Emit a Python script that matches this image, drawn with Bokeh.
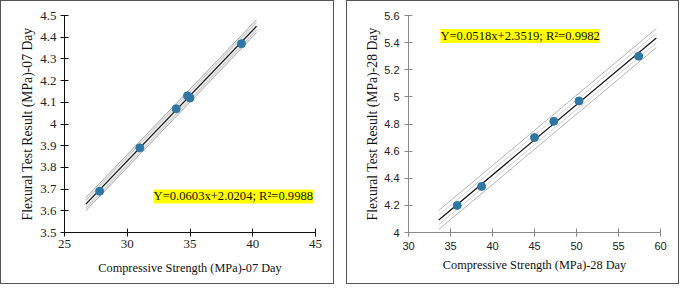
from bokeh.plotting import figure
from bokeh.layouts import row
from bokeh.models import Label, FixedTicker, Range1d
from bokeh.embed import file_html
from bokeh.resources import INLINE

# ---- 7-day data ----
x07 = [27.8, 31.0, 33.9, 34.8, 35.0, 39.1]
y07 = [3.69, 3.89, 4.07, 4.13, 4.12, 4.37]
slope07, icpt07 = 0.0603, 2.0204
fit07_x = [26.7, 40.3]
band07 = [0.018, 0.03]
xticks07 = [25, 30, 35, 40, 45]
yticks07 = [3.5, 3.6, 3.7, 3.8, 3.9, 4.0, 4.1, 4.2, 4.3, 4.4, 4.5]
ylabels07 = ["3.5", "3.6", "3.7", "3.8", "3.9", "4", "4.1", "4.2", "4.3", "4.4", "4.5"]
eq07 = "Y=0.0603x+2.0204; R\u00b2=0.9988"

# ---- 28-day data ----
x28 = [35.8, 38.7, 45.0, 47.3, 50.3, 57.4]
y28 = [4.20, 4.34, 4.70, 4.82, 4.97, 5.30]
slope28, icpt28 = 0.0518, 2.3519
fit28_x = [33.6, 59.5]
band28 = [0.035, 0.07]
xticks28 = [30, 35, 40, 45, 50, 55, 60]
yticks28 = [4.0, 4.2, 4.4, 4.6, 4.8, 5.0, 5.2, 5.4, 5.6]
ylabels28 = ["4", "4.2", "4.4", "4.6", "4.8", "5", "5.2", "5.4", "5.6"]
eq28 = "Y=0.0518x+2.3519; R\u00b2=0.9982"

SERIF = "Liberation Serif"
SANS = "Liberation Sans"
DOT = "#2f77a3"


def make_panel(xs, ys, slope, icpt, fx, band, xt, yt, ylab, xr, yr,
               xtitle, ytitle, eq, eqx, eqy, tick_font, tick_size, axis_color,
               width, mb_left, mb_right, band_fill, band_colors, stand):
    p = figure(width=width, height=284, output_backend="svg", toolbar_location=None,
               x_range=Range1d(*xr), y_range=Range1d(*yr),
               min_border_left=mb_left, min_border_right=mb_right,
               min_border_top=14, min_border_bottom=53)
    p.styles = {"border": "1px solid #555555"}
    p.outline_line_color = None
    p.grid.visible = False
    p.background_fill_color = "white"
    p.border_fill_color = "white"

    fy = [slope * v + icpt for v in fx]
    if band_fill:
        p.varea(x=fx, y1=[v - band[1] for v in fy], y2=[v + band[1] for v in fy],
                fill_color=band_fill, fill_alpha=1.0)
    for b, c in zip(band, band_colors):
        p.line(fx, [v + b for v in fy], line_color=c, line_width=1)
        p.line(fx, [v - b for v in fy], line_color=c, line_width=1)
    p.line(fx, fy, line_color="#111111", line_width=1.2)
    p.scatter(xs, ys, size=8, fill_color=DOT, line_color=DOT)

    p.xaxis.ticker = FixedTicker(ticks=xt)
    p.yaxis.ticker = FixedTicker(ticks=yt)
    p.yaxis.major_label_overrides = {v: s for v, s in zip(yt, ylab)}
    for ax in (p.xaxis, p.yaxis):
        ax.axis_line_color = axis_color
        ax.major_tick_line_color = axis_color
        ax.minor_tick_line_color = None
        ax.major_tick_in = 4
        ax.major_tick_out = 4
        ax.major_label_text_font = tick_font
        ax.major_label_text_font_size = tick_size
        ax.major_label_text_color = "#222222"
        ax.axis_label_text_font = SERIF
        ax.axis_label_text_font_style = "normal"
        ax.axis_label_text_color = "#111111"
    p.xaxis.axis_label_text_font_size = "12.3px"
    p.yaxis.axis_label_text_font_size = "13.7px"
    p.xaxis.axis_label = xtitle
    p.yaxis.axis_label = ytitle
    p.xaxis.major_label_standoff = stand[0]
    p.xaxis.axis_label_standoff = stand[1]
    p.yaxis.major_label_standoff = stand[3]
    p.yaxis.axis_label_standoff = stand[2]

    lab = Label(x=eqx, y=eqy, text=eq, text_font=SERIF, text_font_size="12.6px",
                text_color="#111111", text_align="left", text_baseline="middle",
                background_fill_color="#ffff00", background_fill_alpha=1.0)
    p.add_layout(lab)
    return p


p1 = make_panel(x07, y07, slope07, icpt07, fit07_x, band07, xticks07, yticks07, ylabels07,
                (25, 45), (3.5, 4.5),
                "Compressive Strength (MPa)-07 Day", "Flexural Test Result (MPa)-07 Day",
                eq07, 32.1, 3.666, SERIF, "13px", "#111111", 334, 63, 20,
                "#ededed", ["#c4c4c4", "#a8a8a8"], (3, 10, 2, 4))
p2 = make_panel(x28, y28, slope28, icpt28, fit28_x, band28, xticks28, yticks28, ylabels28,
                (30, 60), (4.0, 5.6),
                "Compressive Strength (MPa)-28 Day", "Flexural Test Result (MPa)-28 Day",
                eq28, 33.8, 5.449, SANS, "11px", "#8a8a8a", 333, 61, 20,
                None, ["#d2d2d2", "#b4b4b4"], (5, 5, 1, 5))

layout = row(p1, p2, spacing=12)
open("out.html", "w").write(file_html(layout, INLINE))
